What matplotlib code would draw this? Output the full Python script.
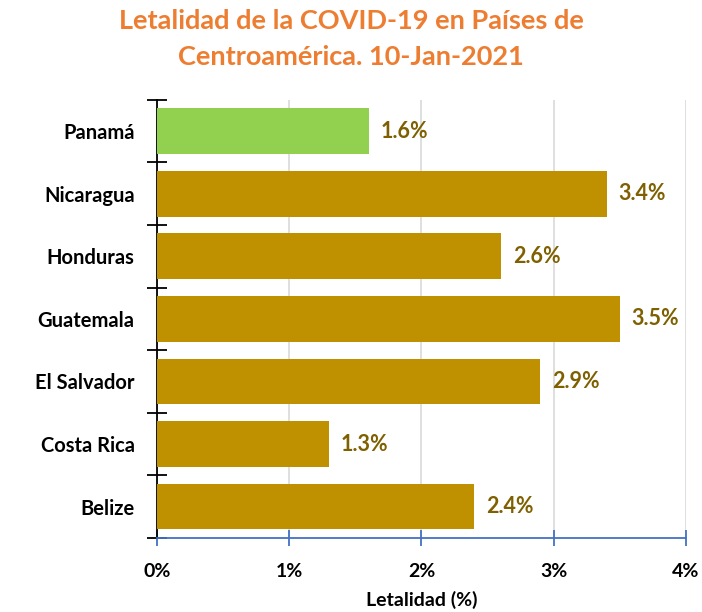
import numpy as np
import matplotlib.pyplot as plt

countries = ['Belize', 'Costa Rica', 'El Salvador', 'Guatemala', 'Honduras', 'Nicaragua', 'Panamá']
lethality = [2.4, 1.3, 2.9, 3.5, 2.6, 3.4, 1.6]
bar_colors = ['#BF9000'] * 6 + ['#92D050']
x_ticks = [0, 1, 2, 3, 4]
x_tick_labels = ['0%', '1%', '2%', '3%', '4%']

plt.rcParams['font.family'] = ['Lato', 'DejaVu Sans']

fig = plt.figure(figsize=(7.02, 6.12), dpi=100)
ax = fig.add_axes([0.2236, 0.121, 0.7534, 0.716])

y = np.arange(len(countries))
ax.barh(y, lethality, height=0.73, color=bar_colors, zorder=3)
for yi, v in zip(y, lethality):
    ax.text(v + 0.09, yi, f'{v:.1f}%', va='center', ha='left',
            fontsize=15.5, fontweight='bold', color='#7F6000')

ax.set_xlim(0, 4)
ax.set_ylim(-0.5, len(countries) - 0.5)
ax.set_xticks(x_ticks)
ax.set_xticklabels(x_tick_labels, fontsize=14, fontweight='bold')
ax.set_yticks(y)
ax.set_yticklabels(countries, fontsize=14.5, fontweight='bold')
ax.set_yticks(np.arange(-0.5, len(countries)), minor=True)
ax.tick_params(axis='y', which='major', length=0, pad=16)
ax.tick_params(axis='y', which='minor', direction='inout', length=14, width=1.3, color='black')
ax.tick_params(axis='x', which='major', direction='inout', length=12, width=1.3, color='#4472C4', pad=12)

ax.grid(axis='x', color='#D9D9D9', linewidth=1.2, zorder=0)
for s in ['top', 'right']:
    ax.spines[s].set_visible(False)
ax.spines['left'].set_color('black')
ax.spines['left'].set_linewidth(1.3)
ax.spines['bottom'].set_color('#4472C4')
ax.spines['bottom'].set_linewidth(1.3)

ax.set_xlabel('Letalidad (%)', fontsize=14, fontweight='bold', labelpad=8)

fig.text(0.5, 0.985, 'Letalidad de la COVID-19 en Países de\nCentroamérica. 10-Jan-2021',
         ha='center', va='top', fontsize=19.5, fontweight='bold', color='#ED7D31',
         linespacing=1.6)

fig.savefig('out.png', dpi=100)
